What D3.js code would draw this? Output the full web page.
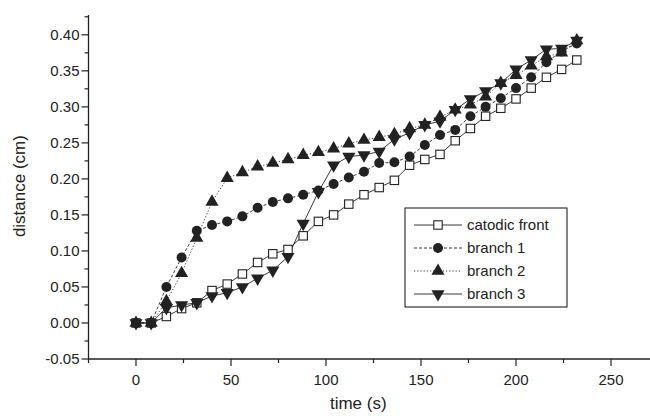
<!DOCTYPE html>
<html><head><meta charset="utf-8">
<script src="https://cdn.jsdelivr.net/npm/d3@7"></script>
<style>body{margin:0;background:#fff}svg{display:block}text{font-family:"Liberation Sans",Arial,sans-serif;fill:#222}</style>
</head><body><svg id="c" width="650" height="416"></svg>
<script>
const times = [0,8,16,24,32,40,48,56,64,72,80,88,96,104,112,120,128,136,144,152,160,168,176,184,192,200,208,216,224,232];
const catodic = [0,0,0.009,0.020,0.028,0.045,0.054,0.068,0.084,0.096,0.102,0.121,0.141,0.150,0.165,0.178,0.188,0.198,0.219,0.227,0.234,0.253,0.270,0.287,0.298,0.311,0.326,0.341,0.352,0.365];
const branch1 = [0,0,0.050,0.091,0.128,0.136,0.141,0.148,0.160,0.168,0.173,0.178,0.184,0.193,0.202,0.210,0.222,0.223,0.231,0.247,0.261,0.268,0.287,0.300,0.312,0.326,0.341,0.362,0.377,0.388];
const branch2 = [0,0,0.030,0.069,0.118,0.168,0.201,0.209,0.217,0.222,0.227,0.233,0.237,0.242,0.249,0.254,0.258,0.262,0.270,0.275,0.286,0.296,0.303,0.314,0.333,0.344,0.357,0.370,0.375,0.392];
const branch3 = [0,0,0.021,0.025,0.028,0.0375,0.042,0.050,0.062,0.073,0.092,0.138,0.182,0.219,0.231,0.233,0.238,0.255,0.264,0.275,0.280,0.296,0.311,0.322,0.333,0.352,0.365,0.380,0.381,0.392];
const seriesNames = ["catodic front","branch 1","branch 2","branch 3"];
const xTicks = [0,50,100,150,200,250];
const yTicks = [-0.05,0,0.05,0.10,0.15,0.20,0.25,0.30,0.35,0.40];

const svg = d3.select("#c");
const x = d3.scaleLinear().domain([-25,275]).range([88.5,658.5]);
const y = d3.scaleLinear().domain([-0.05,0.4275]).range([359,15]);
const ink = "#222";

// axes
const gx = svg.append("g").attr("transform","translate(0,359)");
gx.append("line").attr("x1",x(-25)).attr("x2",650).attr("stroke",ink).attr("stroke-width",1.3);
const xMinor = d3.range(-25,276,25);
gx.selectAll(".xm").data(xMinor).join("line").attr("x1",d=>x(d)).attr("x2",d=>x(d)).attr("y1",0).attr("y2",d=>xTicks.includes(d)?7:4).attr("stroke",ink).attr("stroke-width",1.2);
gx.selectAll(".xl").data(xTicks).join("text").attr("x",d=>x(d)).attr("y",26).attr("text-anchor","middle").attr("font-size",15).text(d=>d);
svg.append("text").attr("x",x(117)).attr("y",409).attr("text-anchor","middle").attr("font-size",17).text("time (s)");

const gy = svg.append("g").attr("transform","translate(88.5,0)");
gy.append("line").attr("y1",y(-0.05)).attr("y2",y(0.4275)).attr("stroke",ink).attr("stroke-width",1.3);
const yMinor = d3.range(-0.05,0.43,0.025);
gy.selectAll(".ym").data(yMinor).join("line").attr("y1",d=>y(d)).attr("y2",d=>y(d)).attr("x1",0).attr("x2",(d,i)=>i%2===0?-7:-4).attr("stroke",ink).attr("stroke-width",1.2);
gy.selectAll(".yl").data(yTicks).join("text").attr("x",-9).attr("y",d=>y(d)).attr("dy","0.36em").attr("text-anchor","end").attr("font-size",15).text(d=>d3.format(".2f")(d).replace("\u2212","-"));
svg.append("text").attr("transform","translate(25,"+y(0.19)+") rotate(-90)").attr("text-anchor","middle").attr("font-size",17).text("distance (cm)");

// series
const data = [catodic,branch1,branch2,branch3];
const dashes = [null,"3,2","1.2,2",null];
const line = d3.line().x((d,i)=>x(times[i])).y(d=>y(d));
data.forEach((s,k)=>{
  svg.append("path").attr("d",line(s)).attr("fill","none").attr("stroke",ink).attr("stroke-width",0.9).attr("stroke-dasharray",dashes[k]);
});
function marker(g,k,cx,cy){
  if(k===0) g.append("rect").attr("x",cx-4.2).attr("y",cy-4.2).attr("width",8.4).attr("height",8.4).attr("fill","#fff").attr("stroke",ink).attr("stroke-width",1.1);
  else if(k===1) g.append("circle").attr("cx",cx).attr("cy",cy).attr("r",5).attr("fill",ink);
  else if(k===2) g.append("path").attr("d",d3.symbol(d3.symbolTriangle,75)()).attr("transform",`translate(${cx},${cy})`).attr("fill",ink);
  else g.append("path").attr("d",d3.symbol(d3.symbolTriangle,75)()).attr("transform",`translate(${cx},${cy}) rotate(180)`).attr("fill",ink);
}
const mg = svg.append("g");
[0,1,3,2].forEach(k=>{ data[k].forEach((v,i)=>marker(mg,k,x(times[i]),y(v))); });

// legend
const lg = svg.append("g");
lg.append("rect").attr("x",405).attr("y",208).attr("width",162).attr("height",99).attr("fill","#fff").attr("stroke",ink).attr("stroke-width",1.1);
seriesNames.forEach((n,k)=>{
  const ly = 225 + k*23;
  lg.append("line").attr("x1",414).attr("x2",462).attr("y1",ly).attr("y2",ly).attr("stroke",ink).attr("stroke-width",0.9).attr("stroke-dasharray",dashes[k]);
  marker(lg,k,438,ly);
  lg.append("text").attr("x",467).attr("y",ly).attr("dy","0.35em").attr("font-size",15).text(n);
});
</script></body></html>
